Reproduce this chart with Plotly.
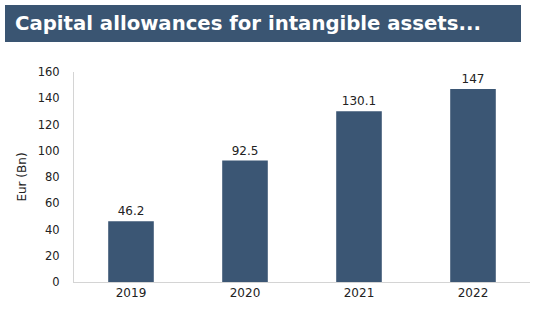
import plotly.graph_objects as go

# Capital allowances for intangible assets, EUR bn
years = ["2019", "2020", "2021", "2022"]
allowances = [46.2, 92.5, 130.1, 147]
y_ticks = [0, 20, 40, 60, 80, 100, 120, 140, 160]

BAR_COLOR = "#3b5674"
BANNER_COLOR = "#3a5572"
FONT = "DejaVu Sans, Verdana, sans-serif"

fig = go.Figure(
    go.Bar(
        x=years,
        y=allowances,
        marker=dict(color=BAR_COLOR, line=dict(width=0)),
        texttemplate="%{y}",
        textposition="outside",
        textfont=dict(family=FONT, size=12, color="#222222"),
        cliponaxis=False,
    )
)

fig.update_layout(
    width=556,
    height=327,
    margin=dict(l=74, r=26, t=72, b=45),
    paper_bgcolor="white",
    plot_bgcolor="white",
    showlegend=False,
    bargap=0.6,
    font=dict(family=FONT, size=12, color="#222222"),
    shapes=[
        dict(
            type="rect",
            xref="paper",
            yref="paper",
            x0=(5 - 74) / 456,
            x1=(521 - 74) / 456,
            y0=(282 - 42) / 210,
            y1=(282 - 5) / 210,
            fillcolor=BANNER_COLOR,
            line=dict(width=0),
            layer="below",
        )
    ],
    annotations=[
        dict(
            text="<b>Capital allowances for intangible assets...</b>",
            xref="paper",
            yref="paper",
            x=(13 - 74) / 456,
            y=(282 - 23.5) / 210,
            xanchor="left",
            yanchor="middle",
            showarrow=False,
            font=dict(family=FONT, size=19.7, color="white"),
        )
    ],
)

fig.update_xaxes(
    range=[-0.5, 3.5],
    showline=True,
    linecolor="#d4d4d4",
    linewidth=1,
    showgrid=False,
    ticks="",
    tickfont=dict(family=FONT, size=12, color="#222222"),
)

fig.update_yaxes(
    range=[0, 160],
    tickvals=y_ticks,
    showline=True,
    linecolor="#d4d4d4",
    linewidth=1,
    showgrid=False,
    zeroline=False,
    ticks="",
    ticklabelstandoff=11,
    tickfont=dict(family=FONT, size=11.5, color="#222222"),
    title=dict(text="Eur (Bn)", font=dict(family=FONT, size=12, color="#222222"), standoff=8),
)

fig.write_html("out.html")
